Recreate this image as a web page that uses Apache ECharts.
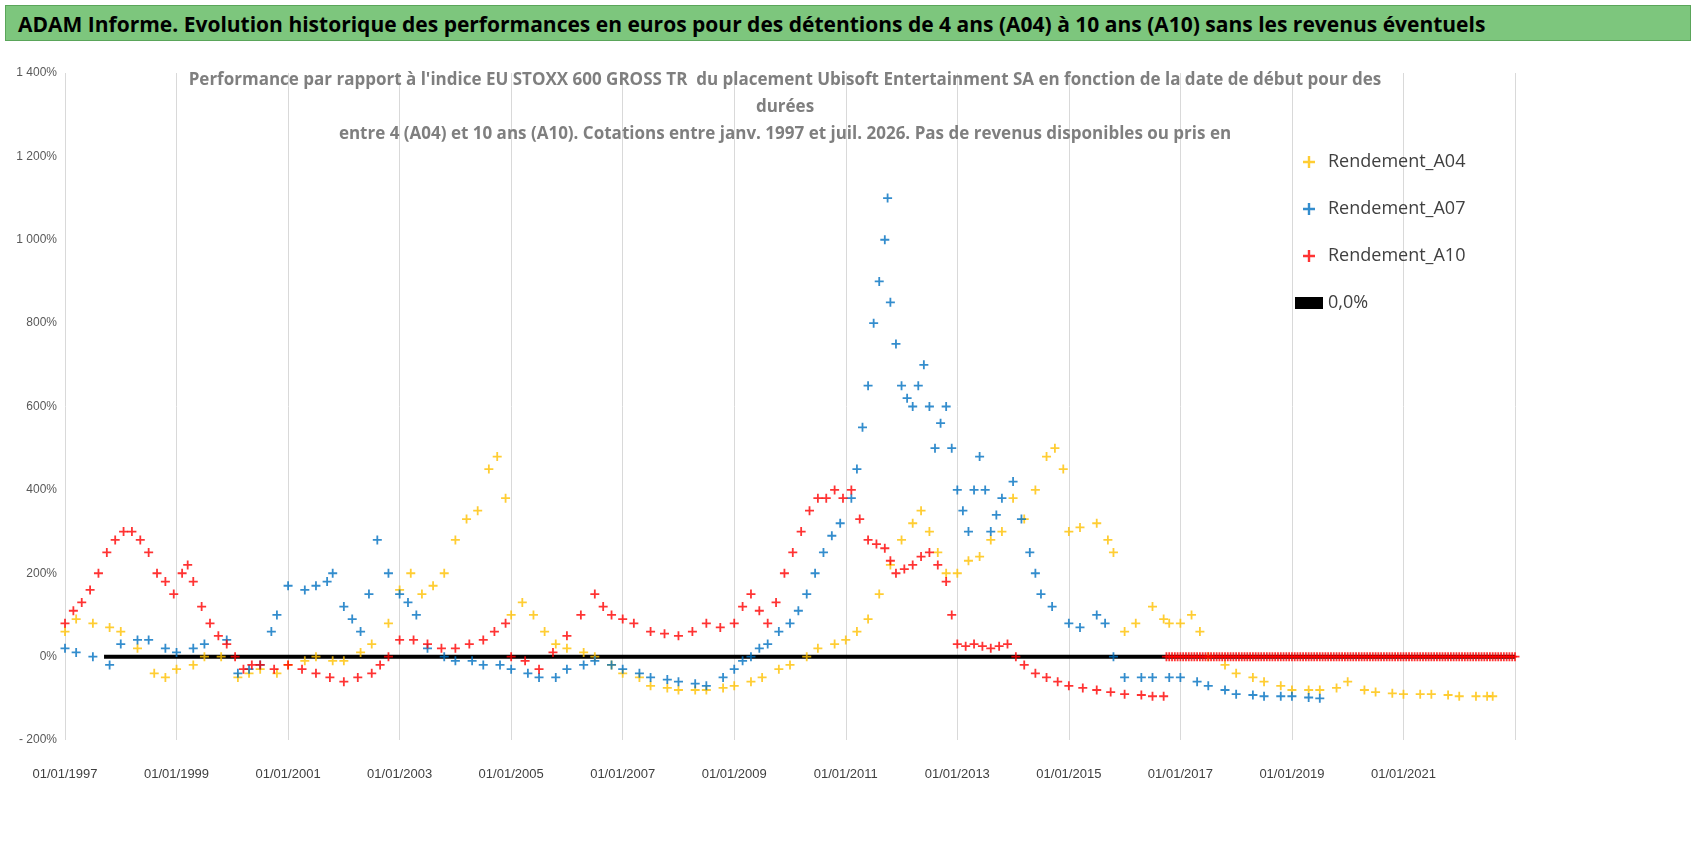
<!DOCTYPE html>
<html>
<head>
<meta charset="utf-8">
<script src="https://cdn.jsdelivr.net/npm/echarts@6/dist/echarts.min.js"></script>
<style>
body { margin: 0; background: #fff; font-family: "Liberation Sans", "Open Sans", sans-serif; }
#bar { position: absolute; left: 5px; top: 5px; width: 1686px; height: 36px; background: #7dc67d; border: 1px solid #5aa55a;
	font: bold 21px "Open Sans", sans-serif; color: #000; line-height: 36px; padding-left: 12px; box-sizing: border-box; }
#main { position: absolute; left: 0; top: 0; width: 1698px; height: 856px; }
</style>
</head>
<body>
	<div id="main"></div>
	<div id="bar">ADAM Informe. Evolution historique des performances en euros pour des détentions de 4 ans (A04) à 10 ans (A10) sans les revenus éventuels</div>
	<script type="text/javascript">
		var myChart = echarts.init(document.getElementById("main"));

		// [année, rendement %]
		var a04 = [[1997.0,60],[1997.2,90],[1997.5,80],[1997.8,70],[1998.0,60],[1998.3,20],[1998.6,-40],[1998.8,-50],[1999.0,-30],[1999.3,-20],[1999.5,0],[1999.8,0],
			[2000.1,-50],[2000.3,-40],[2000.5,-30],[2000.8,-40],[2001.0,-20],[2001.3,-10],[2001.5,0],[2001.8,-10],[2002.0,-10],[2002.3,10],[2002.5,30],[2002.8,80],
			[2003.0,160],[2003.2,200],[2003.4,150],[2003.6,170],[2003.8,200],[2004.0,280],[2004.2,330],[2004.4,350],[2004.6,450],[2004.75,480],[2004.9,380],
			[2005.0,100],[2005.2,130],[2005.4,100],[2005.6,60],[2005.8,30],[2006.0,20],[2006.3,10],[2006.5,0],[2006.8,-20],[2007.0,-40],[2007.3,-50],[2007.5,-70],
			[2007.8,-75],[2008.0,-80],[2008.3,-80],[2008.5,-80],[2008.8,-75],[2009.0,-70],[2009.3,-60],[2009.5,-50],[2009.8,-30],[2010.0,-20],[2010.3,0],
			[2010.5,20],[2010.8,30],[2011.0,40],[2011.2,60],[2011.4,90],[2011.6,150],[2011.8,220],[2012.0,280],[2012.2,320],[2012.35,350],[2012.5,300],
			[2012.65,250],[2012.8,200],[2013.0,200],[2013.2,230],[2013.4,240],[2013.6,280],[2013.8,300],[2014.0,380],[2014.2,330],[2014.4,400],[2014.6,480],
			[2014.75,500],[2014.9,450],[2015.0,300],[2015.2,310],[2015.5,320],[2015.7,280],[2015.8,250],[2016.0,60],[2016.2,80],[2016.5,120],[2016.7,90],
			[2016.8,80],[2017.0,80],[2017.2,100],[2017.35,60],[2017.5,0],[2017.8,-20],[2018.0,-40],[2018.3,-50],[2018.5,-60],[2018.8,-70],[2019.0,-80],
			[2019.3,-80],[2019.5,-80],[2019.8,-75],[2020.0,-60],[2020.3,-80],[2020.5,-85],[2020.8,-88],[2021.0,-90],[2021.3,-90],[2021.5,-90],[2021.8,-92],
			[2022.0,-95],[2022.3,-95],[2022.5,-95],[2022.6,-95]];

		var a07 = [[1997.0,20],[1997.2,10],[1997.5,0],[1997.8,-20],[1998.0,30],[1998.3,40],[1998.5,40],[1998.8,20],[1999.0,10],[1999.3,20],[1999.5,30],
			[1999.9,40],[2000.1,-40],[2000.3,-30],[2000.5,-20],[2000.7,60],[2000.8,100],[2001.0,170],[2001.3,160],[2001.5,170],[2001.7,180],[2001.8,200],
			[2002.0,120],[2002.15,90],[2002.3,60],[2002.45,150],[2002.6,280],[2002.8,200],[2003.0,150],[2003.15,130],[2003.3,100],[2003.5,20],[2003.8,0],
			[2004.0,-10],[2004.3,-10],[2004.5,-20],[2004.8,-20],[2005.0,-30],[2005.3,-40],[2005.5,-50],[2005.8,-50],[2006.0,-30],[2006.3,-20],[2006.5,-10],
			[2006.8,-20],[2007.0,-30],[2007.3,-40],[2007.5,-50],[2007.8,-55],[2008.0,-60],[2008.3,-65],[2008.5,-70],[2008.8,-50],[2009.0,-30],[2009.15,-10],
			[2009.3,0],[2009.45,20],[2009.6,30],[2009.8,60],[2010.0,80],[2010.15,110],[2010.3,150],[2010.45,200],[2010.6,250],[2010.75,290],[2010.9,320],
			[2011.1,380],[2011.2,450],[2011.3,550],[2011.4,650],[2011.5,800],[2011.6,900],[2011.7,1000],[2011.75,1100],[2011.8,850],[2011.9,750],[2012.0,650],
			[2012.1,620],[2012.2,600],[2012.3,650],[2012.4,700],[2012.5,600],[2012.6,500],[2012.7,560],[2012.8,600],[2012.9,500],[2013.0,400],[2013.1,350],
			[2013.2,300],[2013.3,400],[2013.4,480],[2013.5,400],[2013.6,300],[2013.7,340],[2013.8,380],[2014.0,420],[2014.15,330],[2014.3,250],[2014.4,200],
			[2014.5,150],[2014.7,120],[2015.0,80],[2015.2,70],[2015.5,100],[2015.65,80],[2015.8,0],[2016.0,-50],[2016.3,-50],[2016.5,-50],[2016.8,-50],
			[2017.0,-50],[2017.3,-60],[2017.5,-70],[2017.8,-80],[2018.0,-90],[2018.3,-92],[2018.5,-95],[2018.8,-95],[2019.0,-95],[2019.3,-98],[2019.5,-100]];

		var a10 = [[1997.0,80],[1997.15,110],[1997.3,130],[1997.45,160],[1997.6,200],[1997.75,250],[1997.9,280],[1998.05,300],[1998.2,300],[1998.35,280],
			[1998.5,250],[1998.65,200],[1998.8,180],[1998.95,150],[1999.1,200],[1999.2,220],[1999.3,180],[1999.45,120],[1999.6,80],[1999.75,50],[1999.9,30],
			[2000.05,0],[2000.2,-30],[2000.35,-20],[2000.5,-20],[2000.75,-30],[2001.0,-20],[2001.25,-30],[2001.5,-40],[2001.75,-50],[2002.0,-60],[2002.25,-50],
			[2002.5,-40],[2002.65,-20],[2002.8,0],[2003.0,40],[2003.25,40],[2003.5,30],[2003.75,20],[2004.0,20],[2004.25,30],[2004.5,40],[2004.7,60],[2004.9,80],
			[2005.0,0],[2005.25,-10],[2005.5,-30],[2005.75,10],[2006.0,50],[2006.25,100],[2006.5,150],[2006.65,120],[2006.8,100],[2007.0,90],[2007.2,80],
			[2007.5,60],[2007.75,55],[2008.0,50],[2008.25,60],[2008.5,80],[2008.75,70],[2009.0,80],[2009.15,120],[2009.3,150],[2009.45,110],[2009.6,80],
			[2009.75,130],[2009.9,200],[2010.05,250],[2010.2,300],[2010.35,350],[2010.5,380],[2010.65,380],[2010.8,400],[2010.95,380],[2011.1,400],[2011.25,330],
			[2011.4,280],[2011.55,270],[2011.7,260],[2011.8,230],[2011.9,200],[2012.05,210],[2012.2,220],[2012.35,240],[2012.5,250],[2012.65,220],[2012.8,180],
			[2012.9,100],[2013.0,30],[2013.15,25],[2013.3,30],[2013.45,25],[2013.6,20],[2013.75,25],[2013.9,30],[2014.05,0],[2014.2,-20],[2014.4,-40],
			[2014.6,-50],[2014.8,-60],[2015.0,-70],[2015.25,-75],[2015.5,-80],[2015.75,-85],[2016.0,-90],[2016.3,-92],[2016.5,-95],[2016.7,-95]];
		// au-delà : pas de données, rendement affiché à 0
		var a10z = [];
		for (var y = 2016.75; y <= 2023; y += 0.05) a10z.push([+y.toFixed(2), 0]);

		var plus = 'path://M4,0H6V4H10V6H6V10H4V6H0V4H4Z';

		var option = {
			title: {
				text: "Performance par rapport à l'indice EU STOXX 600 GROSS TR  du placement Ubisoft Entertainment SA en fonction de la date de début pour des\ndurées\nentre 4 (A04) et 10 ans (A10). Cotations entre janv. 1997 et juil. 2026. Pas de revenus disponibles ou pris en",
				left: 780, top: 62, textAlign: 'center',
				textStyle: { fontSize: 17, fontWeight: 'bold', color: '#7f7f7f', lineHeight: 27, fontFamily: 'Open Sans' }
			},
			legend: {
				orient: 'vertical', left: 1290, top: 148, itemGap: 29,
				itemWidth: 28, itemHeight: 12,
				textStyle: { fontSize: 18, color: '#404040', fontFamily: 'Open Sans' },
				data: [
					{ name: 'Rendement_A04', icon: plus },
					{ name: 'Rendement_A07', icon: plus },
					{ name: 'Rendement_A10', icon: plus },
					{ name: '0,0%', icon: 'rect', itemStyle: { color: '#000' } }
				]
			},
			grid: { left: 65, right: 183, top: 73, bottom: 116 },
			xAxis: {
				type: 'value', min: 1997, max: 2023, interval: 2,
				axisLine: { show: false }, axisTick: { show: false },
				splitLine: { lineStyle: { color: '#d9d9d9' } },
				axisLabel: { color: '#404040', fontSize: 13, margin: 28, formatter: function (v) { return v < 2023 ? '01/01/' + v : ''; } }
			},
			yAxis: {
				type: 'value', min: -200, max: 1400, interval: 200,
				axisLine: { show: false }, axisTick: { show: false },
				splitLine: { show: false },
				axisLabel: { color: '#595959', fontSize: 12, formatter: function (v) {
					var s = Math.abs(v) >= 1000 ? Math.floor(Math.abs(v) / 1000) + ' ' + String(Math.abs(v) % 1000).padStart(3, '0') : String(Math.abs(v));
					return (v < 0 ? '- ' : '') + s + '%'; } }
			},
			series: [
				{ name: '0,0%', type: 'line', data: [[1997.7, 0], [2023, 0]], symbol: 'none', lineStyle: { color: '#000', width: 4 }, itemStyle: { color: '#000' }, z: 1 },
				{ name: 'Rendement_A04', type: 'scatter', data: a04, symbol: plus, symbolSize: 9, itemStyle: { color: '#ffc000' } },
				{ name: 'Rendement_A07', type: 'scatter', data: a07, symbol: plus, symbolSize: 9, itemStyle: { color: '#0070c0' } },
				{ name: 'Rendement_A10', type: 'scatter', data: a10, symbol: plus, symbolSize: 9, itemStyle: { color: '#ff0000' } },
				{ name: 'Rendement_A10', type: 'scatter', data: a10z, symbol: plus, symbolSize: 9, itemStyle: { color: '#ff0000' } }
			]
		};
		myChart.setOption(option, true);
	</script>
</body>
</html>
